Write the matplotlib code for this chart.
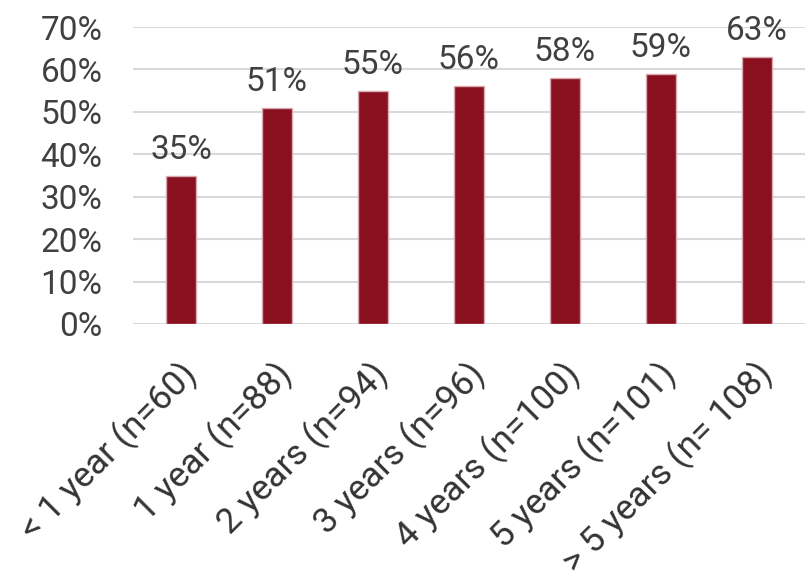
import matplotlib
matplotlib.use("Agg")
import matplotlib.pyplot as plt
from matplotlib.ticker import FuncFormatter, MultipleLocator
from matplotlib.transforms import ScaledTranslation

categories = ["< 1 year (n=60)", "1 year (n=88)", "2 years (n=94)", "3 years (n=96)",
              "4 years (n=100)", "5 years (n=101)", "> 5 years (n= 108)"]
values = [35, 51, 55, 56, 58, 59, 63]

plt.rcParams["font.family"] = ["Roboto", "DejaVu Sans"]

fig = plt.figure(figsize=(8.10, 5.84), dpi=100)
ax = fig.add_axes([133 / 810, 1 - 324 / 584, 672 / 810, (324 - 27) / 584])

bar_color = "#8a1020"
x = list(range(len(categories)))
ax.bar(x, values, width=0.31, color=bar_color, edgecolor="#d8aab0", linewidth=1.0, zorder=3)

for xi, v in zip(x, values):
    ax.text(xi, v + 4.0, f"{v}%", ha="center", va="baseline", fontsize=24, color="#404040")

ax.set_xlim(-0.5, len(categories) - 0.5)
ax.set_ylim(0, 70)
ax.yaxis.set_major_locator(MultipleLocator(10))
ax.yaxis.set_major_formatter(FuncFormatter(lambda v, _: f"{v:.0f}%"))
ax.grid(axis="y", color="#d9d9d9", linewidth=1.5, zorder=0)
ax.set_axisbelow(True)

for s in ax.spines.values():
    s.set_visible(False)

ax.tick_params(axis="both", length=0)
ax.tick_params(axis="y", labelsize=24, labelcolor="#404040", pad=22)
ax.set_xticks(x)
ax.set_xticklabels(categories, rotation=45, ha="right", va="center", rotation_mode="anchor",
                   fontsize=25.5, color="#333333")
ax.tick_params(axis="x", pad=32)
shift = ScaledTranslation(10 / 100, 0, fig.dpi_scale_trans)
for lbl in ax.get_xticklabels():
    lbl.set_transform(lbl.get_transform() + shift)

fig.savefig("out.png", dpi=100, facecolor="white")
